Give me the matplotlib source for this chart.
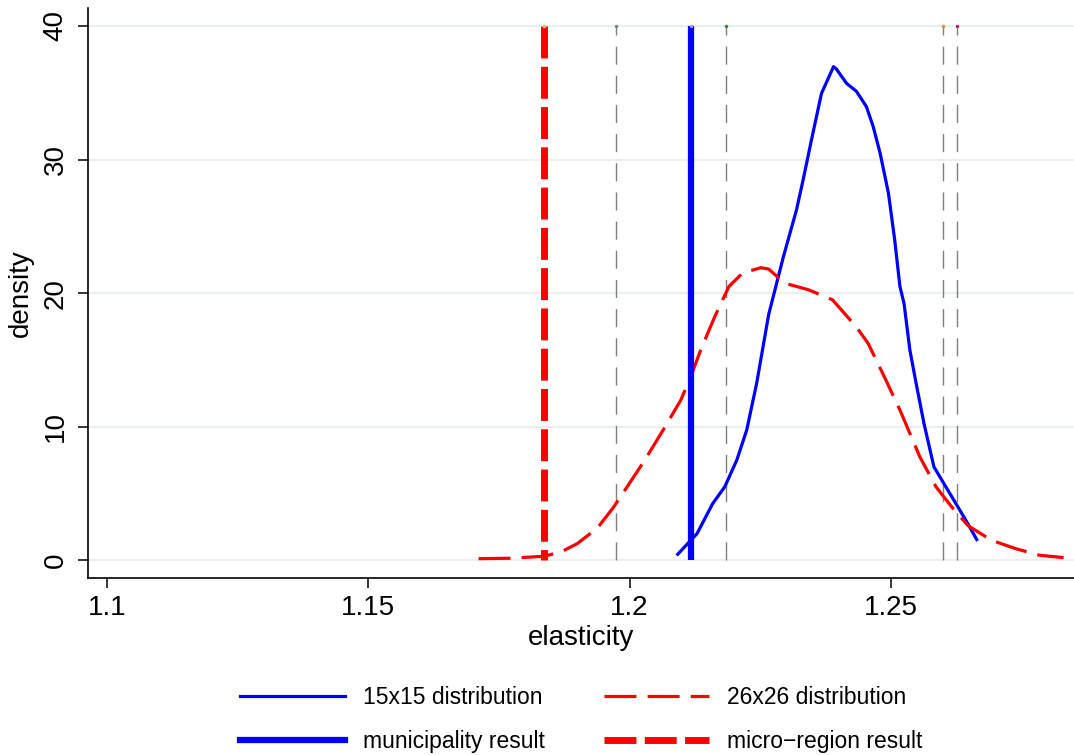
import matplotlib
matplotlib.use("Agg")
import matplotlib.pyplot as plt
from matplotlib.lines import Line2D

plt.rcParams['font.family'] = ['Liberation Sans', 'DejaVu Sans']

# kernel density of the 15x15 estimates
blue_x = [1.2092, 1.2129, 1.2159, 1.2182, 1.2205, 1.2224, 1.2243, 1.2266, 1.2294,
          1.2319, 1.2332, 1.2348, 1.2367, 1.2390, 1.2395, 1.2415, 1.2434, 1.2453,
          1.2466, 1.2479, 1.2495, 1.2507, 1.2517, 1.2525, 1.2536, 1.2548, 1.2563,
          1.2582, 1.2601, 1.2624, 1.2643, 1.2664]
blue_y = [0.45, 2.0, 4.25, 5.5, 7.5, 9.75, 13.25, 18.4, 22.7,
          26.2, 28.5, 31.5, 34.95, 36.95, 36.8, 35.7, 35.1, 33.95,
          32.45, 30.5, 27.5, 24.0, 20.5, 19.2, 15.75, 13.25, 10.25,
          7.0, 5.75, 4.25, 3.0, 1.55]

# kernel density of the 26x26 estimates
red_x = [1.1711, 1.1770, 1.1837, 1.1870, 1.1900, 1.1938, 1.1968, 1.1991, 1.2029,
         1.2068, 1.2098, 1.2117, 1.2136, 1.2163, 1.2190, 1.2216, 1.2251, 1.2266,
         1.2296, 1.2342, 1.2388, 1.2433, 1.2456, 1.2487, 1.2517, 1.2555, 1.2586,
         1.2616, 1.2647, 1.2692, 1.2738, 1.2784, 1.2830]
red_y = [0.12, 0.15, 0.3, 0.65, 1.25, 2.4, 3.9, 5.25, 7.5,
         10.0, 12.0, 13.75, 15.75, 18.25, 20.5, 21.5, 21.9, 21.8,
         20.75, 20.25, 19.5, 17.5, 16.25, 13.75, 11.25, 7.75, 5.5,
         4.0, 2.6, 1.5, 0.875, 0.375, 0.2]

municipality = 1.2118
micro_region = 1.1837
gray_lines = [1.1974, 1.2185, 1.2599, 1.2627]
top_dot_colors = ['#d2c38a', '#6f8c80', '#9c9cd4', '#4f7a3a', '#e8892a', '#b3245c']
line_top = 40

fig = plt.figure(figsize=(10.74, 7.55), dpi=100)
ax = fig.add_axes([88 / 1074, 1 - 578.3 / 755, 1 - 88 / 1074, 570 / 755])

ax.set_xlim(1.0964, 1.285)
ax.set_ylim(-1.35, 41.32)

for y in [0, 10, 20, 30, 40]:
    ax.axhline(y, color='#e9f0f2', lw=1.5, zorder=0)

for gx in gray_lines:
    ax.plot([gx, gx], [0, line_top], color='#7f7f7f', lw=1.0, dashes=(13, 8), zorder=2)

ax.plot(blue_x, blue_y, color='#0000ff', lw=2.3, zorder=3, solid_joinstyle='round')
ax.plot(red_x, red_y, color='#ff0000', lw=2.3, dashes=(10, 3.5), zorder=3)

ax.plot([municipality, municipality], [0, line_top], color='#0000ff', lw=4.5,
        solid_capstyle='butt', zorder=4)
ax.plot([micro_region, micro_region], [line_top, 0], color='#ff0000', lw=5,
        dashes=(4.6, 1.2), dash_capstyle='butt', zorder=4)

dot_x = [micro_region] + gray_lines[:1] + [municipality] + gray_lines[1:]
for dx, c in zip(dot_x, top_dot_colors):
    ax.plot(dx, line_top, 'o', color=c, ms=2.5, mec='none', zorder=5)

ax.spines['top'].set_visible(False)
ax.spines['right'].set_visible(False)
ax.spines['left'].set_linewidth(1.2)
ax.spines['bottom'].set_linewidth(1.2)

ax.set_xticks([1.1, 1.15, 1.2, 1.25])
ax.set_xticklabels(['1.1', '1.15', '1.2', '1.25'])
ax.set_yticks([0, 10, 20, 30, 40])
ax.tick_params(axis='both', length=7, width=1.1, labelsize=20, direction='out')
ax.tick_params(axis='y', pad=7)
ax.tick_params(axis='x', pad=5)
for lab in ax.get_yticklabels():
    lab.set_rotation(90)
    lab.set_va('center')

ax.set_xlabel('elasticity', fontsize=20, labelpad=3)
ax.set_ylabel('density', fontsize=20, labelpad=6)

handles = [
    Line2D([], [], color='#0000ff', lw=2.3),
    Line2D([], [], color='#0000ff', lw=4.5),
    Line2D([], [], color='#ff0000', lw=2.3, dashes=(10, 3.5)),
    Line2D([], [], color='#ff0000', lw=5, dashes=(4.6, 1.2)),
]
labels = ['15x15 distribution', 'municipality result',
          '26x26 distribution', 'micro\u2212region result']
fig.legend(handles, labels, ncol=2, loc='center', bbox_to_anchor=(581 / 1074, 0.047),
           frameon=False, fontsize=16.5, handlelength=4.6, handletextpad=0.75,
           columnspacing=2.6, labelspacing=0.95)

fig.savefig('out.png', dpi=100)
